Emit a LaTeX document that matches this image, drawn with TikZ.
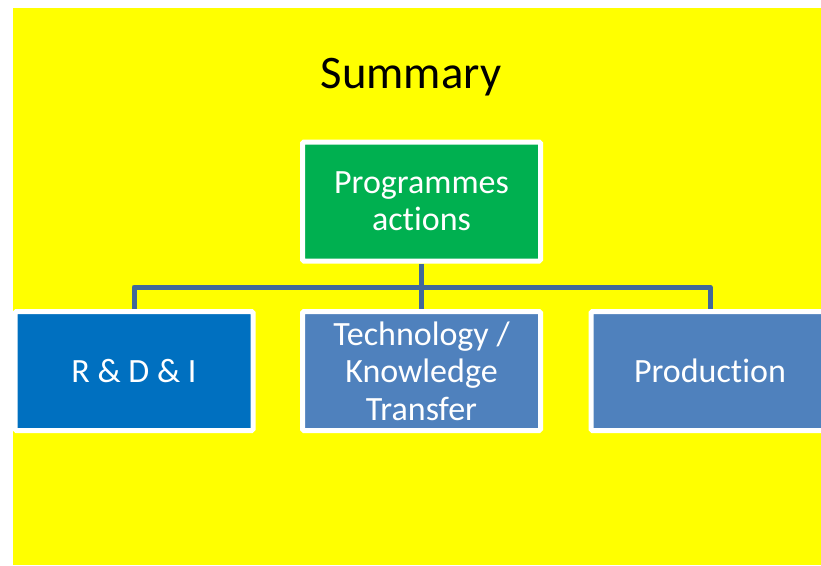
\documentclass[tikz,border=0pt]{standalone}
\usepackage{fontspec}
\setmainfont{Carlito}[Ligatures=NoCommon]
\usetikzlibrary{positioning,backgrounds}
\definecolor{slide}{RGB}{255,255,0}
\definecolor{topgreen}{RGB}{0,176,80}
\definecolor{rdblue}{RGB}{0,112,192}
\definecolor{boxblue}{RGB}{79,129,189}
\definecolor{linkblue}{RGB}{65,104,154}

\begin{document}
\begin{tikzpicture}[x=0.75pt,y=-0.75pt]
	\tikzstyle{boite}=[draw=white, line width=3.75pt, rounded corners=1pt, minimum width=178.5pt, minimum height=89.25pt, inner sep=0pt, align=center, text=white, font=\fontsize{25.5}{28}\selectfont]
	\tikzstyle{lien}=[draw=linkblue, line width=3.75pt, line join=round]
	\useasboundingbox (0,0) rectangle (821,565);
	\node[font=\fontsize{35}{40}\selectfont, anchor=base] (titre) at (411,88) {Summary};
	\node[boite, fill=topgreen] (prog) at (421.5,201.5) {Programmes\\actions};
	\node[boite, fill=rdblue] (rdi) at (134,371) {R \& D \& I};
	\node[boite, fill=boxblue] (tech) at (421.5,371) {Technology /\\Knowledge\\Transfer};
	\node[boite, fill=boxblue] (prod) at (710,371) {Production};
	\coordinate (bus) at (421.5,287);
	\begin{scope}[on background layer]
		\fill[white] (0,0) rectangle (821,565);
		\fill[slide] (13,8) rectangle (821,565);
		\draw[lien] (rdi.north) |- (bus) -| (prod.north);
		\draw[lien] (prog.south) -- (tech.north);
	\end{scope}
\end{tikzpicture}
\end{document}
